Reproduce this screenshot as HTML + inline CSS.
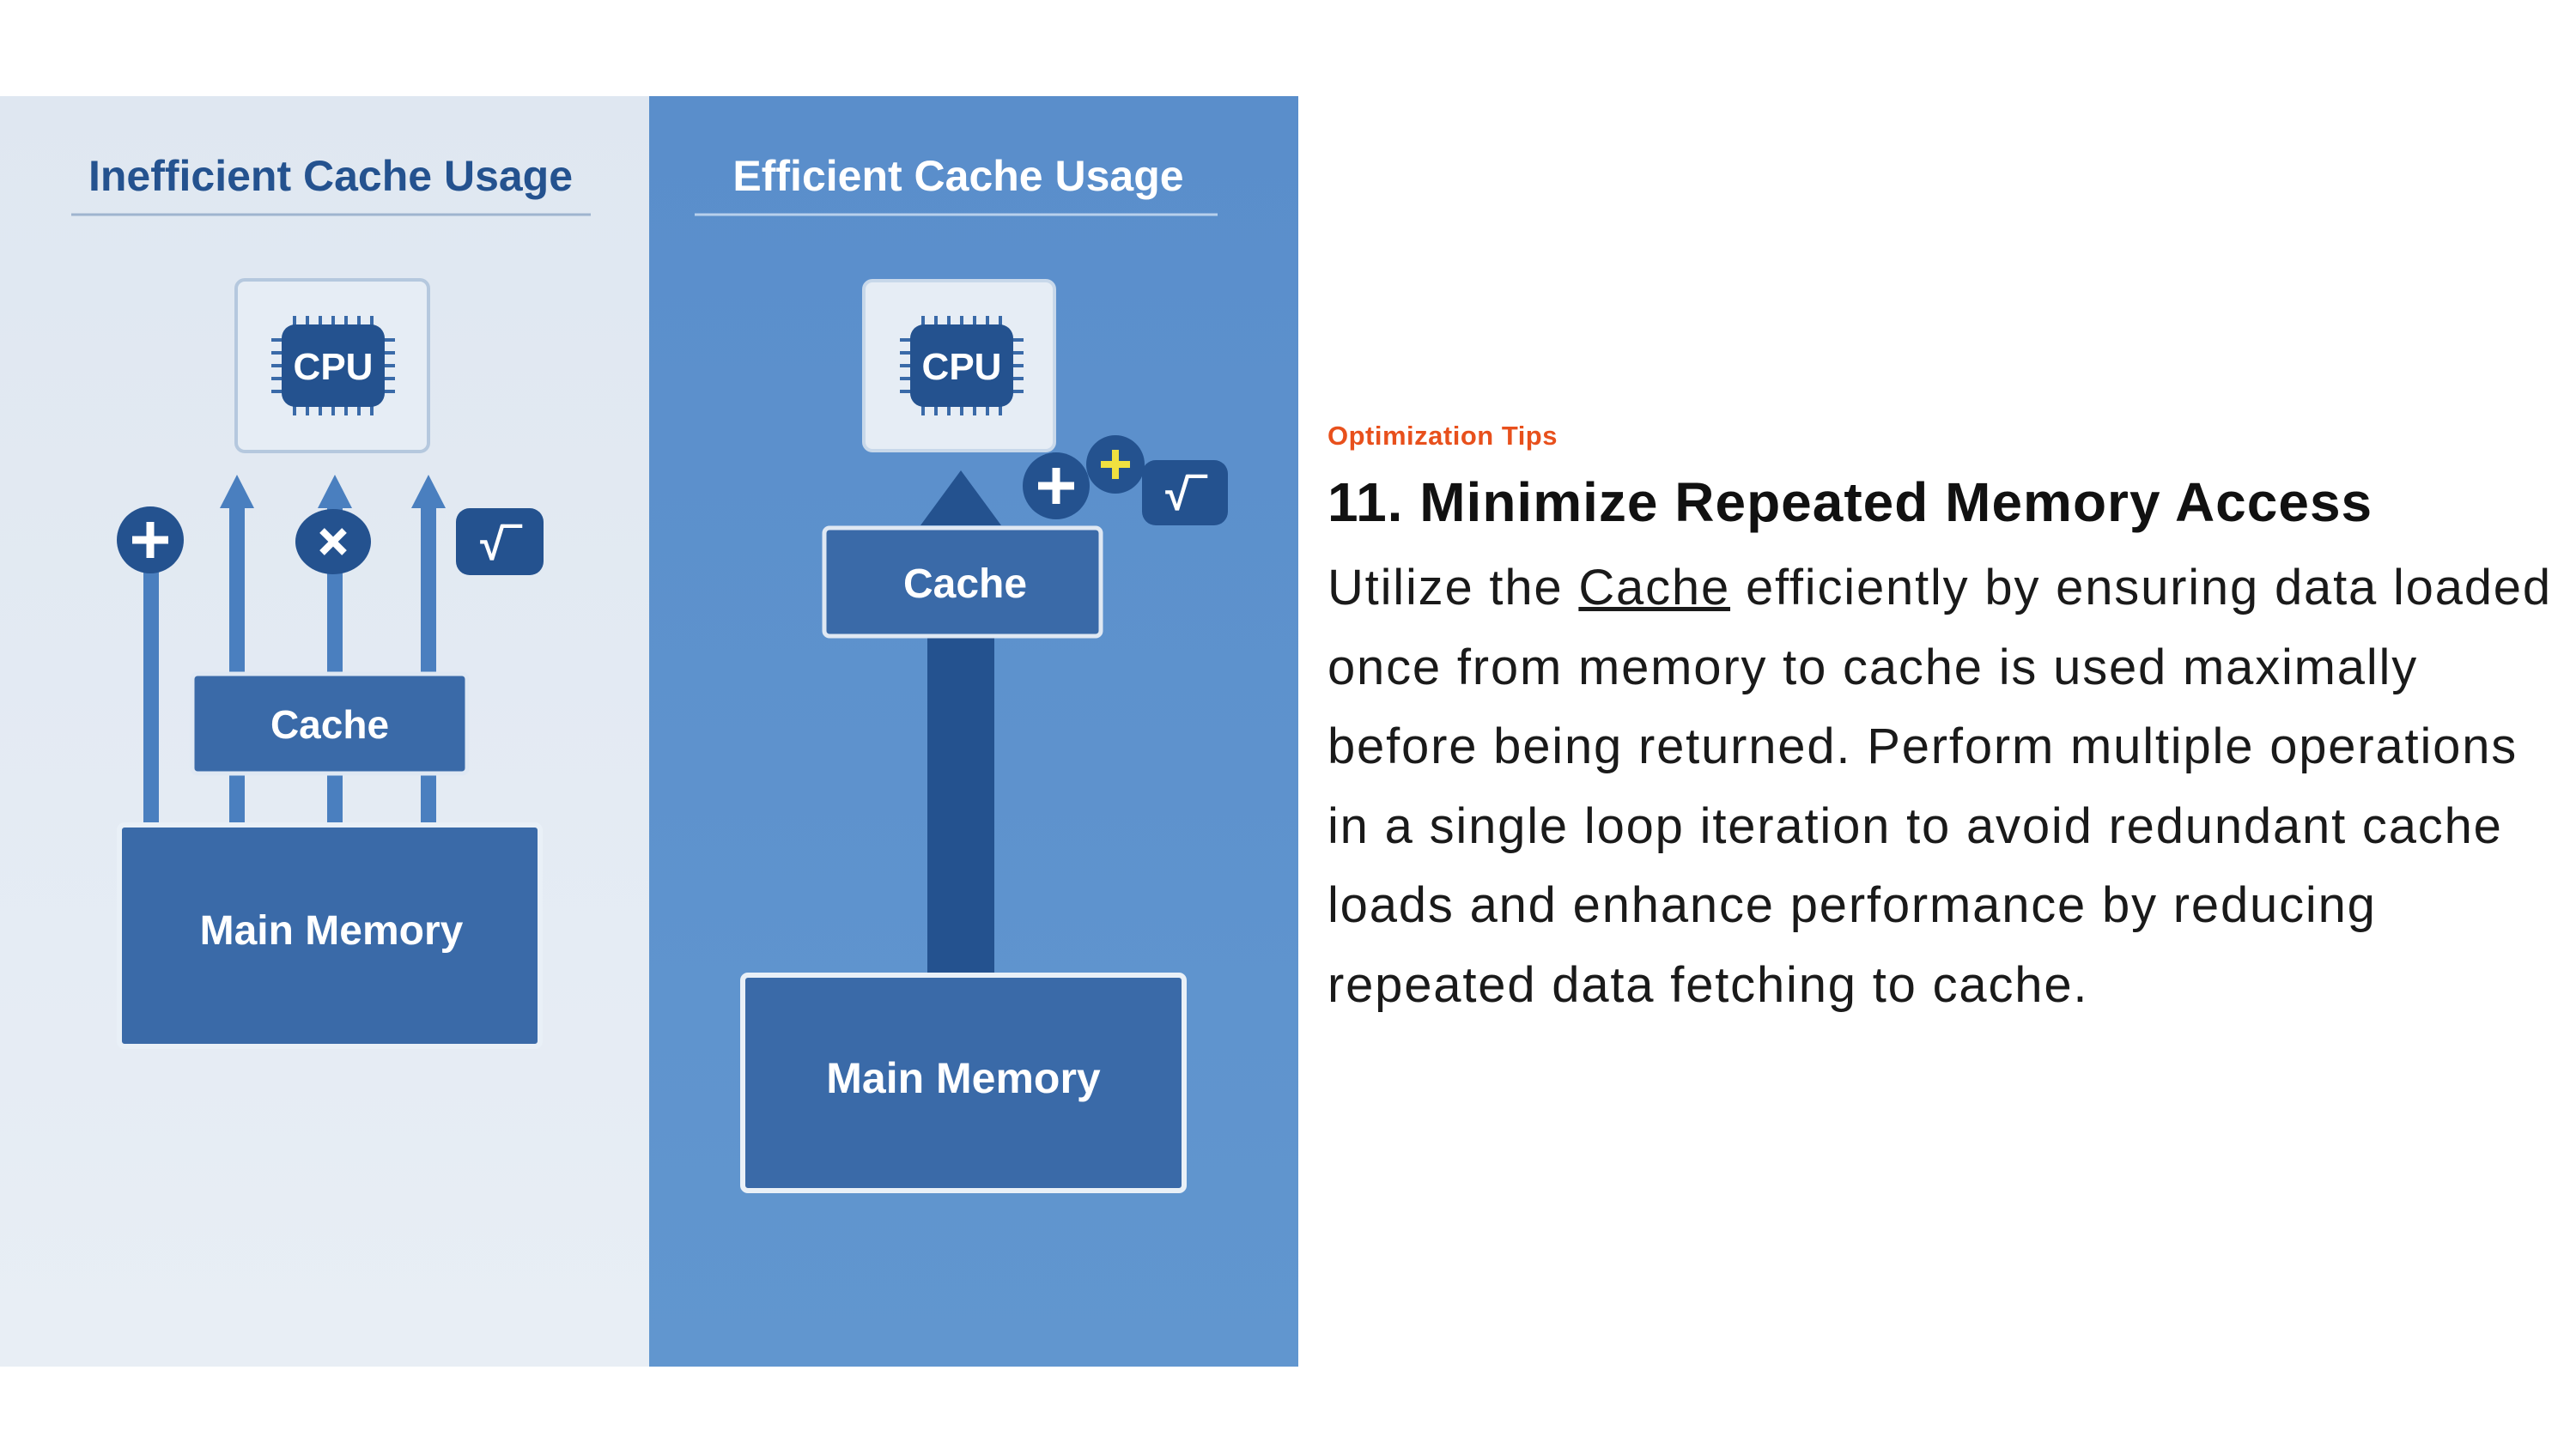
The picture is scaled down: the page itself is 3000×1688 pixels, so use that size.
<!DOCTYPE html>
<html><head><meta charset="utf-8"><style>
html,body{margin:0;padding:0;background:#fff;width:3000px;height:1688px;overflow:hidden}
svg{position:absolute;left:0;top:0}
.t{position:absolute;left:1546px;font-family:"Liberation Sans",sans-serif;white-space:nowrap}
</style></head><body>
<svg width="1512" height="1688" viewBox="0 0 1512 1688" font-family="Liberation Sans, sans-serif">
<defs>
<linearGradient id="lg" x1="0" y1="0" x2="0" y2="1"><stop offset="0" stop-color="#dfe7f1"/><stop offset="1" stop-color="#e8eef5"/></linearGradient>
<linearGradient id="bg" x1="0" y1="0" x2="0" y2="1"><stop offset="0" stop-color="#5a8ecb"/><stop offset="1" stop-color="#6196cf"/></linearGradient>
<g id="chip">
 <g stroke="#3a6aa8" stroke-width="4">
  <path d="M-45,-58v12M-30,-58v12M-15,-58v12M0,-58v12M15,-58v12M30,-58v12M45,-58v12"/>
  <path d="M-45,46v12M-30,46v12M-15,46v12M0,46v12M15,46v12M30,46v12M45,46v12"/>
  <path d="M-72,-30h12M-72,-15h12M-72,0h12M-72,15h12M-72,30h12"/>
  <path d="M60,-30h12M60,-15h12M60,0h12M60,15h12M60,30h12"/>
 </g>
 <rect x="-60" y="-48" width="120" height="96" rx="16" fill="#24528f"/>
 <text x="0" y="16" text-anchor="middle" font-size="44" font-weight="bold" fill="#fff">CPU</text>
</g>
</defs>
<rect x="0" y="112" width="756" height="1480" fill="url(#lg)"/>
<rect x="756" y="112" width="756" height="1480" fill="url(#bg)"/>
<!-- left -->
<text x="385" y="222" text-anchor="middle" font-size="50" font-weight="bold" fill="#24528f">Inefficient Cache Usage</text>
<line x1="83" y1="250" x2="688" y2="250" stroke="#9fb4cf" stroke-width="3"/>
<rect x="275" y="326" width="224" height="200" rx="10" fill="#e6edf5" stroke="#b5c8de" stroke-width="4"/>
<use href="#chip" x="388" y="426"/>
<g fill="#4a7fbf">
 <rect x="167" y="630" width="18" height="332"/>
 <rect x="267" y="590" width="18" height="372"/><path d="M256,592 L276,553 L296,592Z"/>
 <rect x="381" y="590" width="18" height="372"/><path d="M370,592 L390,553 L410,592Z"/>
 <rect x="490" y="590" width="18" height="372"/><path d="M479,592 L499,553 L519,592Z"/>
</g>
<circle cx="175" cy="629" r="39" fill="#24528f"/>
<path d="M175,608v42M154,629h42" stroke="#fff" stroke-width="9"/>
<ellipse cx="388" cy="631" rx="44" ry="38" fill="#24528f"/>
<path d="M375,618l26,26M401,618l-26,26" stroke="#fff" stroke-width="8"/>
<rect x="531" y="592" width="102" height="78" rx="16" fill="#24528f"/>
<text x="582" y="652" text-anchor="middle" font-size="52" font-weight="bold" fill="#fff">√‾</text>
<rect x="224" y="785" width="320" height="116" rx="6" fill="#3a6aa8" stroke="#dfe8f3" stroke-width="5"/>
<text x="384" y="860" text-anchor="middle" font-size="46" font-weight="bold" fill="#fff">Cache</text>
<rect x="139" y="961" width="490" height="258" rx="6" fill="#3a6aa8" stroke="#e9f0f7" stroke-width="6"/>
<text x="386" y="1100" text-anchor="middle" font-size="48" font-weight="bold" fill="#fff">Main Memory</text>
<!-- right -->
<text x="1116" y="222" text-anchor="middle" font-size="50" font-weight="bold" fill="#fff">Efficient Cache Usage</text>
<line x1="809" y1="250" x2="1418" y2="250" stroke="#b8d0ec" stroke-width="3"/>
<rect x="1006" y="327" width="222" height="198" rx="10" fill="#e6edf5" stroke="#c8d8ea" stroke-width="4"/>
<use href="#chip" x="1120" y="426"/>
<rect x="1080" y="741" width="78" height="395" fill="#24528f"/>
<path d="M1072,612 L1119,548 L1166,612Z" fill="#24528f"/>
<rect x="960" y="615" width="322" height="126" rx="6" fill="#3a6aa8" stroke="#dfe8f3" stroke-width="5"/>
<text x="1124" y="696" text-anchor="middle" font-size="48" font-weight="bold" fill="#fff">Cache</text>
<rect x="865" y="1136" width="514" height="251" rx="6" fill="#3a6aa8" stroke="#e9f0f7" stroke-width="6"/>
<text x="1122" y="1273" text-anchor="middle" font-size="50" font-weight="bold" fill="#fff">Main Memory</text>
<circle cx="1230" cy="566" r="39" fill="#24528f"/>
<path d="M1230,545v42M1209,566h42" stroke="#fff" stroke-width="9"/>
<circle cx="1299" cy="541" r="34" fill="#24528f"/>
<path d="M1299,524v34M1282,541h34" stroke="#f0e040" stroke-width="8"/>
<rect x="1330" y="536" width="100" height="76" rx="16" fill="#24528f"/>
<text x="1380" y="594" text-anchor="middle" font-size="52" font-weight="bold" fill="#fff">√‾</text>
</svg>
<div class="t" style="top:490px;font-size:31px;font-weight:bold;color:#e8501c;letter-spacing:0.5px">Optimization Tips</div>
<div class="t" style="top:548px;font-size:64px;font-weight:bold;color:#111;letter-spacing:1px">11. Minimize Repeated Memory Access</div>
<div class="t" style="top:639px;font-size:58px;line-height:92.6px;color:#1a1a1a;letter-spacing:1.8px">Utilize the <u>Cache</u> efficiently by ensuring data loaded<br>once from memory to cache is used maximally<br>before being returned. Perform multiple operations<br>in a single loop iteration to avoid redundant cache<br>loads and enhance performance by reducing<br>repeated data fetching to cache.</div>
</body></html>
